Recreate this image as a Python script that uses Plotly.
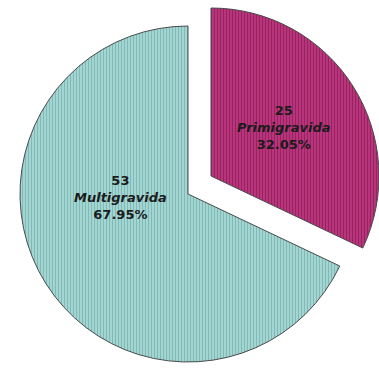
import plotly.graph_objects as go

# Gravida status of respondents
labels = ["Primigravida", "Multigravida"]
counts = [25, 53]
colors = ["#b8357e", "#a3d6d3"]
stripe_colors = ["#97235f", "#80b9b6"]

W, H = 379, 369
total = sum(counts)
percents = [c / total * 100 for c in counts]

# Each slice is drawn by its own pie trace (other slice kept transparent) so the
# Primigravida slice can sit exploded away from the rest of the pie.
domains = [
    dict(x=[43 / W, 379 / W], y=[25 / H, 361 / H]),   # exploded slice
    dict(x=[20 / W, 356 / W], y=[7 / H, 343 / H]),    # main pie
]

fig = go.Figure()
for i, dom in enumerate(domains):
    clear = "rgba(0,0,0,0)"
    slice_colors = [clear] * len(counts)
    line_colors = [clear] * len(counts)
    shapes = [""] * len(counts)
    fg = [clear] * len(counts)
    bg = [clear] * len(counts)
    slice_colors[i] = colors[i]
    line_colors[i] = "#4a4a4a"
    shapes[i] = "|"
    fg[i] = stripe_colors[i]
    bg[i] = colors[i]
    fig.add_trace(go.Pie(
        labels=labels,
        values=counts,
        sort=False,
        direction="clockwise",
        rotation=0,
        domain=dom,
        textinfo="none",
        hoverinfo="skip",
        showlegend=False,
        marker=dict(
            colors=slice_colors,
            line=dict(color=line_colors, width=1),
            pattern=dict(shape=shapes, fgcolor=fg, bgcolor=bg,
                         size=3, solidity=0.35),
        ),
    ))

# Slice labels: count, category and share
label_pos = [(284, 127), (120, 197)]
for (px, py), lab, n, pct in zip(label_pos, labels, counts, percents):
    fig.add_annotation(
        x=px / W, y=1 - py / H, xref="paper", yref="paper",
        xanchor="center", yanchor="middle",
        text=f"<b>{n}<br><i>{lab}</i><br>{pct:.2f}%</b>",
        showarrow=False, align="center",
        font=dict(family="DejaVu Sans", size=13, color="#1c1c1c"),
    )

fig.update_layout(
    width=W, height=H,
    margin=dict(l=0, r=0, t=0, b=0),
    paper_bgcolor="white",
    plot_bgcolor="white",
)

fig.write_html("out.html")
